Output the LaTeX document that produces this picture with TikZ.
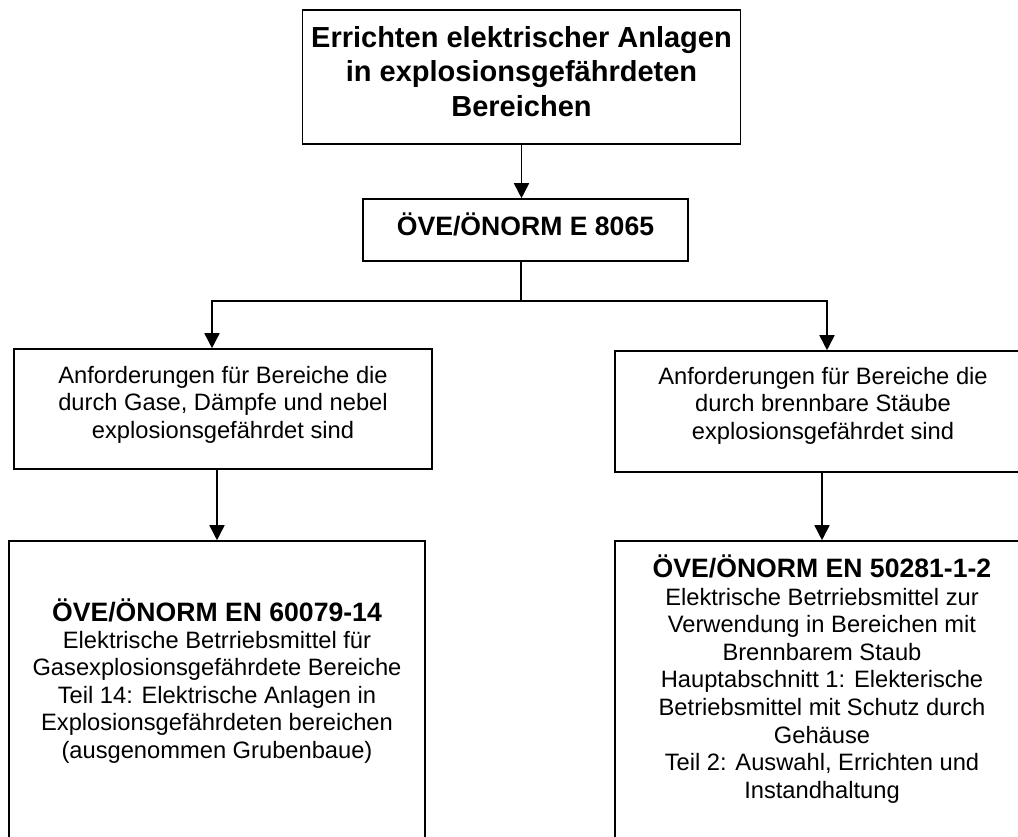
\documentclass[tikz,border=0pt]{standalone}
\usepackage{fontspec}
\setmainfont{Liberation Sans}
\usetikzlibrary{arrows.meta}
\begin{document}
\begin{tikzpicture}[x=1pt,y=-1pt,
 box/.style={draw,line width=1.6pt,inner sep=0pt},
 conn/.style={line width=1.6pt},
 arr/.style={line width=1.6pt,-{Triangle[length=15pt,width=15pt]}},
 big/.style={font=\fontsize{29}{34.5}\selectfont\bfseries,align=center,inner sep=0pt,anchor=base},
 ttl/.style={font=\fontsize{26.6}{30}\selectfont\bfseries,align=center,inner sep=0pt,anchor=base},
 txt/.style={font=\fontsize{23.7}{27.6}\selectfont,align=center,inner sep=0pt,anchor=base}]
\useasboundingbox (0,0) rectangle (1018,836);
\clip (0,0) rectangle (1018,836);
% boxes
\node[box,minimum width=438pt,minimum height=134pt] (top) at (521.5,77) {};
\node[box,minimum width=325pt,minimum height=62pt] (e8065) at (525.5,230) {};
\node[box,minimum width=418pt,minimum height=120pt] (gas) at (223,409) {};
\node[box,minimum width=416pt,minimum height=121pt] (staub) at (823,411.5) {};
\node[box,minimum width=416pt,minimum height=359pt] (lowL) at (217,720.5) {};
\node[box,minimum width=416pt,minimum height=359pt] (lowR) at (823,720.5) {};
% texts (base anchor = baseline of the last line)
\node[big] (toptext) at (521.5,116) {Errichten elektrischer Anlagen\\in explosionsgefährdeten\\Bereichen};
\node[ttl] (e8065text) at (525.5,235) {ÖVE/ÖNORM E 8065};
\node[txt] (gastext) at (223,438.2) {Anforderungen für Bereiche die\\durch Gase, Dämpfe und nebel\\explosionsgefährdet sind};
\node[txt] (staubtext) at (823,439.2) {Anforderungen für Bereiche die\\durch brennbare Stäube\\explosionsgefährdet sind};
\node[ttl] (lowLtitle) at (217,621) {ÖVE/ÖNORM EN 60079-14};
\node[txt] (lowLtext) at (217,758.4) {Elektrische Betrriebsmittel für\\Gasexplosionsgefährdete Bereiche\\Teil 14: Elektrische Anlagen in\\Explosionsgefährdeten bereichen\\(ausgenommen Grubenbaue)};
\node[ttl] (lowRtitle) at (822,577) {ÖVE/ÖNORM EN 50281-1-2};
\node[txt] (lowRtext) at (822,798.2) {Elektrische Betrriebsmittel zur\\Verwendung in Bereichen mit\\Brennbarem Staub\\Hauptabschnitt 1: Elekterische\\Betriebsmittel mit Schutz durch\\Gehäuse\\Teil 2: Auswahl, Errichten und\\Instandhaltung};
% connectors
\coordinate (split) at (521,301);
\coordinate (gl) at (212,0);
\coordinate (gr) at (827,0);
\coordinate (ll) at (217,0);
\coordinate (lr) at (822,0);
\draw[arr] (top.south) -- (top.south |- e8065.north);
\draw[conn] (e8065.south -| split) -- (split);
\draw[arr] (split) -| (gas.north -| gl);
\draw[arr] (split) -| (staub.north -| gr);
\draw[arr] (gas.south -| ll) -- (lowL.north -| ll);
\draw[arr] (staub.south -| lr) -- (lowR.north -| lr);
\end{tikzpicture}
\end{document}
